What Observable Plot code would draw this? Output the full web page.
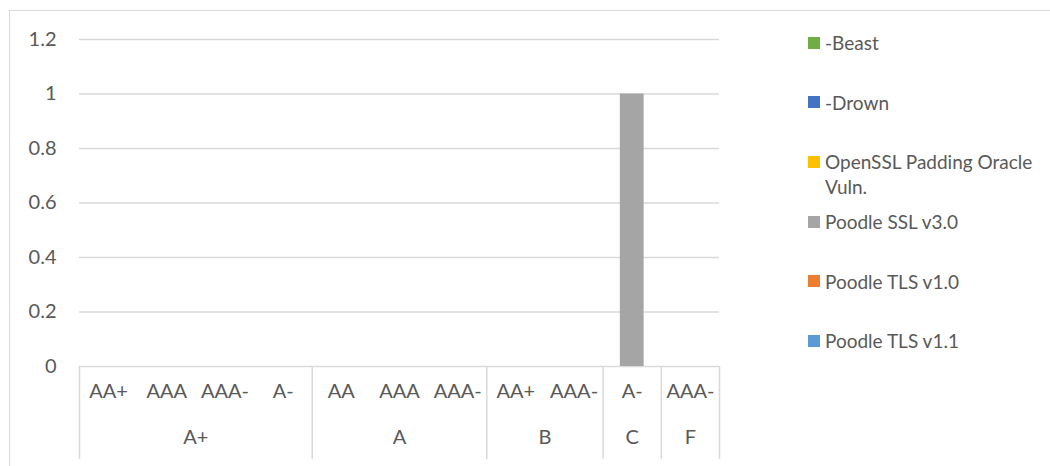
<!DOCTYPE html>
<html>
<head>
<meta charset="utf-8">
<script src="https://cdn.jsdelivr.net/npm/d3@7"></script>
<script src="https://cdn.jsdelivr.net/npm/@observablehq/plot@0.6"></script>
<style>
  html, body { margin: 0; padding: 0; background: #fff; }
  #wrap { position: relative; width: 1050px; height: 466px; overflow: hidden; font-family: Lato, "Open Sans", sans-serif; color: #595959; }
  #border { position: absolute; left: 9px; top: 10px; width: 1100px; height: 500px; border-top: 1.5px solid #d9d9d9; border-left: 1.5px solid #d9d9d9; }
  #chart { position: absolute; left: 0; top: 0; }
  #legend { position: absolute; left: 808px; top: 30px; }
  .entry { height: 59.7px; display: flex; align-items: flex-start; }
  .sw { width: 12px; height: 12px; margin-top: 6.5px; flex: none; }
  .lab { margin-left: 5px; line-height: 25px; font-size: 19px; width: 218px; }
</style>
</head>
<body>
<div id="wrap">
  <div id="border"></div>
  <div id="chart"></div>
  <div id="legend"></div>
</div>
<script>
// Category hierarchy (outer grade -> inner ratings)
const groupNames = ["A+", "A", "B", "C", "F"];
const groupMembers = [
  ["AA+", "AAA", "AAA-", "A-"],
  ["AA", "AAA", "AAA-"],
  ["AA+", "AAA-"],
  ["A-"],
  ["AAA-"]
];
// Series
const seriesNames = ["-Beast", "-Drown", "OpenSSL Padding Oracle Vuln.", "Poodle SSL v3.0", "Poodle TLS v1.0", "Poodle TLS v1.1"];
const seriesColors = ["#70ad47", "#4472c4", "#ffc000", "#a5a5a5", "#ed7d31", "#5b9bd5"];
// Values per series, one per inner category (11 categories in order)
const beastValues       = [0,0,0,0, 0,0,0, 0,0, 0, 0];
const drownValues       = [0,0,0,0, 0,0,0, 0,0, 0, 0];
const opensslValues     = [0,0,0,0, 0,0,0, 0,0, 0, 0];
const poodleSslValues   = [0,0,0,0, 0,0,0, 0,0, 1, 0];
const poodleTls10Values = [0,0,0,0, 0,0,0, 0,0, 0, 0];
const poodleTls11Values = [0,0,0,0, 0,0,0, 0,0, 0, 0];
const yTicks = [0, 0.2, 0.4, 0.6, 0.8, 1, 1.2];

// Build tables
const cats = [];
const groups = [];
const bounds = [0];
groupNames.forEach((g, gi) => {
  const start = cats.length;
  groupMembers[gi].forEach(m => cats.push({group: g, label: m, i: cats.length}));
  groups.push({name: g, start, end: cats.length});
  bounds.push(cats.length);
});
const allValues = [beastValues, drownValues, opensslValues, poodleSslValues, poodleTls10Values, poodleTls11Values];
const bars = [];
seriesNames.forEach((s, si) => {
  allValues[si].forEach((v, ci) => { if (v) bars.push({series: s, i: ci, value: v}); });
});

const plot = Plot.plot({
  width: 1050,
  height: 466,
  marginLeft: 79,
  marginRight: 331,
  marginTop: 39,
  marginBottom: 100,
  style: {fontFamily: "Lato, 'Open Sans', sans-serif", fontSize: "20px", color: "#595959", background: "transparent", overflow: "visible"},
  x: {type: "linear", domain: [0, cats.length], axis: null},
  y: {domain: [0, 1.2], axis: null},
  color: {domain: seriesNames, range: seriesColors},
  marks: [
    Plot.gridY(yTicks, {stroke: "#d9d9d9", strokeOpacity: 1, strokeWidth: 1.5}),
    Plot.axisY(yTicks, {tickSize: 0, tickPadding: 23, tickFormat: d => String(d), fontSize: 20}),
    Plot.rectY(bars, {x1: d => d.i, x2: d => d.i + 1, y1: 0, y2: d => d.value, fill: "series", insetLeft: 17.2, insetRight: 17.2}),
    Plot.ruleX(bounds, {x: d => d, y1: 0, y2: 0, insetBottom: -93, stroke: "#d9d9d9", strokeWidth: 1.5}),
    Plot.text(cats, {x: d => d.i + 0.5, text: "label", frameAnchor: "bottom", dy: 31, fontSize: 20, fill: "#595959"}),
    Plot.text(groups, {x: d => (d.start + d.end) / 2, text: "name", frameAnchor: "bottom", dy: 77, fontSize: 20, fill: "#595959"})
  ]
});
document.getElementById("chart").appendChild(plot);

const legend = document.getElementById("legend");
seriesNames.forEach((s, i) => {
  const e = document.createElement("div");
  e.className = "entry";
  const sw = document.createElement("div");
  sw.className = "sw";
  sw.style.background = seriesColors[i];
  const lab = document.createElement("div");
  lab.className = "lab";
  lab.textContent = s;
  e.appendChild(sw); e.appendChild(lab);
  legend.appendChild(e);
});
</script>
</body>
</html>
